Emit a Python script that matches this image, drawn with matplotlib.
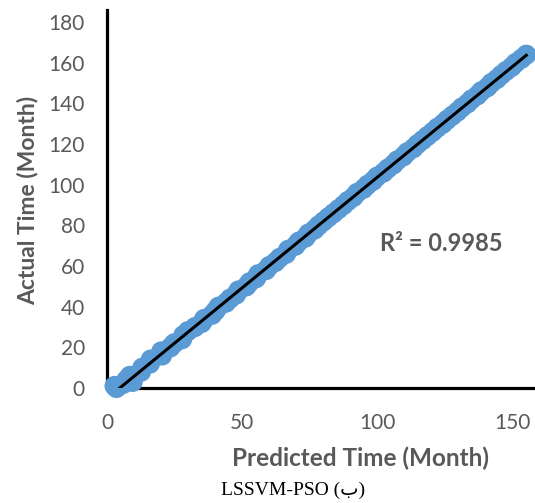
import matplotlib
matplotlib.use("Agg")
import matplotlib.pyplot as plt
import numpy as np

actual = [0, 1, 2, 3, 4, 5, 6, 8, 10, 12, 14, 16, 18, 20, 22, 24, 26, 28, 30, 32, 34,
          36, 38, 40, 42, 44, 46, 48, 50, 52, 54, 56, 58, 60, 62, 64, 66, 68, 70, 72, 74,
          76, 78, 80, 82, 84, 86, 88, 90, 92, 94, 96, 98, 100, 102, 104, 106, 108, 110,
          112, 114, 116, 118, 120, 122, 124, 126, 128, 130, 132, 134, 136, 138, 140, 142,
          144, 146, 148, 150, 152, 154, 156, 158, 160, 162, 164]
predicted = [3.5, 2.8, 6.0, 9.5, 7.2, 9.8, 8.5, 12.6, 13.1, 15.9, 16.2, 20.4, 20.1, 23.5, 24.9,
             27.8, 28.3, 30.0, 32.6, 35.1, 36.0, 38.9, 40.2, 41.3, 44.1, 45.6, 47.8, 48.7,
             51.6, 52.8, 55.2, 56.0, 58.9, 60.1, 62.4, 63.9, 66.3, 67.1, 69.8, 71.0, 73.5,
             74.6, 76.9, 78.4, 80.2, 82.0, 83.9, 85.7, 87.6, 89.2, 91.3, 92.6, 95.0, 96.5,
             98.6, 100.0, 102.4, 104.0, 106.1, 107.5, 109.8, 111.2, 113.5, 115.0, 116.9,
             118.7, 120.6, 122.3, 124.4, 126.0, 127.9, 129.8, 131.4, 133.5, 135.0, 137.2,
             138.6, 140.9, 142.3, 144.4, 146.0, 147.8, 149.9, 151.4, 153.5, 155.3]
r2_label = "R² = 0.9985"
caption = "LSSVM-PSO (ب)"
x_ticks = [0, 50, 100, 150]
y_ticks = list(range(0, 181, 20))

gray = "#595959"
blue = "#5B9BD5"
plt.rcParams['font.family'] = ['Lato', 'DejaVu Sans']

fig = plt.figure(figsize=(5.35, 5.03), dpi=100)
ax = fig.add_axes([107/535, 115/503, 432/535, 378/503])

x = np.array(predicted)
y = np.array(actual)
ax.scatter(x, y, s=210, color=blue, edgecolors='none', zorder=2, clip_on=False)
m, b = np.polyfit(x, y, 1)
x0 = -b / m
xl = np.array([x0, x.max()])
ax.plot(xl, m * xl + b, color='black', lw=2.2, zorder=3)

ax.set_xlim(0, 160)
ax.set_ylim(0, 186)
ax.set_xticks(x_ticks)
ax.set_yticks(y_ticks)
for s in ['top', 'right']:
    ax.spines[s].set_visible(False)
for s in ['left', 'bottom']:
    ax.spines[s].set_linewidth(2.3)
    ax.spines[s].set_color('black')
    ax.spines[s].set_zorder(1)
ax.tick_params(axis='both', length=0, labelsize=15, labelcolor=gray)
ax.tick_params(axis='x', pad=18)
ax.tick_params(axis='y', pad=16)

fig.text(360/535, 1 - 458/503, "Predicted Time (Month)", ha='center', va='center',
         fontsize=17.5, fontweight='bold', color=gray)
fig.text(28/535, 1 - 200/503, "Actual Time (Month)", ha='center', va='center',
         rotation=90, fontsize=16.5, fontweight='bold', color=gray)
fig.text(441/535, 1 - 243/503, r2_label, ha='center', va='center',
         fontsize=17, fontweight='bold', color=gray)
fig.text(293/535, 1 - 490/503, caption, ha='center', va='center',
         fontsize=14, color='black', family=['Liberation Serif', 'DejaVu Sans'])

fig.savefig("out.png", dpi=100)
